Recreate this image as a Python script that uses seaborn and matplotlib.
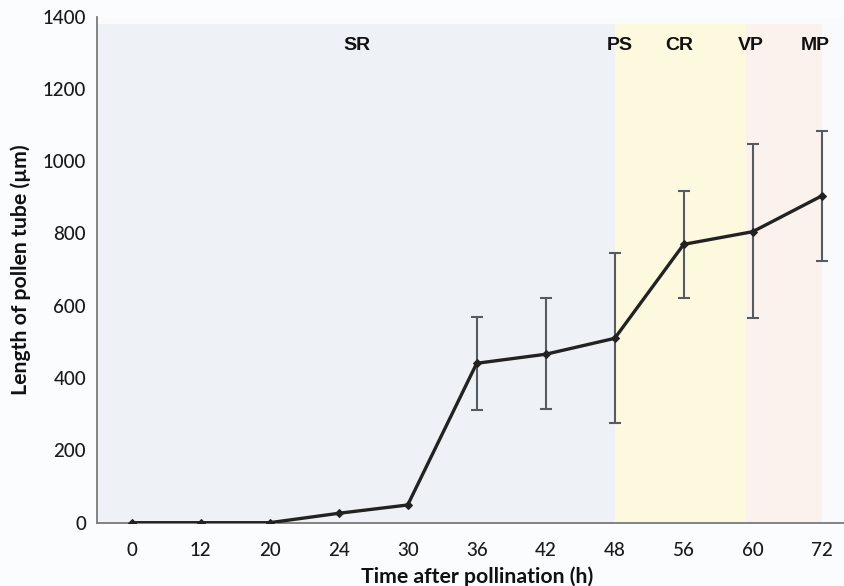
import matplotlib
matplotlib.use("Agg")
import matplotlib.pyplot as plt
import seaborn as sns
import numpy as np
import pandas as pd

# ---- data ----
time_labels = ["0", "12", "20", "24", "30", "36", "42", "48", "56", "60", "72"]
mean_length = [0, 0, 0, 26, 49, 441, 466, 510, 770, 805, 904]
err_upper = [None, None, None, None, None, 568, 621, 745, 918, 1047, 1084]
err_lower = [None, None, None, None, None, 312, 314, 275, 622, 565, 724]

stage_names = ["SR", "PS", "CR", "VP", "MP"]
stage_label_pos = [3.26, 7.07, 7.94, 8.97, 9.9]
stage_regions = [(-0.5, 7.0), (7.0, 8.9), (8.9, 10.0)]
stage_colors = ["#eef2f7", "#fdf9df", "#fbf2ee"]

sns.set_style("white")
plt.rcParams['font.family'] = ['Lato', 'DejaVu Sans']

fig = plt.figure(figsize=(8.44, 5.86), dpi=100, facecolor="#fbfcfe")
ax = fig.add_axes([97.2 / 844, (586 - 522.7) / 586, 759 / 844, (522.7 - 16.6) / 586])
ax.set_facecolor("#f9fafc")

pos = np.arange(len(time_labels))
df = pd.DataFrame({"pos": pos, "mean": mean_length})

# shaded stage regions
for (x0, x1), c in zip(stage_regions, stage_colors):
    ax.axvspan(x0, x1, ymin=0, ymax=1380 / 1400, color=c, lw=0, zorder=0)

# error bars
for p, m, hi, lo in zip(pos, mean_length, err_upper, err_lower):
    if hi is None:
        continue
    ax.errorbar([p], [m], yerr=[[m - lo], [hi - m]], fmt="none", ecolor="#555b60",
                elinewidth=1.5, capsize=4.5, capthick=1.5, zorder=2)

sns.lineplot(data=df, x="pos", y="mean", ax=ax, color="#222222", linewidth=2.4,
             marker="D", markersize=4.5, markeredgecolor="#222222", zorder=3)

# stage labels
for name, xp in zip(stage_names, stage_label_pos):
    ax.text(xp, 1321, name, ha="center", va="center", fontsize=14, fontweight="bold",
            family=["Liberation Sans", "DejaVu Sans"], color="#111111")

ax.set_xlim(-0.5, 10.5)
ax.set_ylim(0, 1400)
ax.set_yticks(range(0, 1401, 200))
ax.set_xticks(pos)
ax.set_xticklabels(time_labels)
ax.set_xticks(np.arange(-0.5, 11, 1), minor=True)
ax.tick_params(axis="x", which="major", length=0, pad=14, labelsize=13.5, labelcolor="#1a1a1a")
ax.tick_params(axis="x", which="minor", length=5, width=1.2, color="#707070", direction="out")
ax.tick_params(axis="y", which="major", length=4, width=1.2, color="#707070", direction="out",
               labelsize=13.5, labelcolor="#1a1a1a", pad=4)
for lab in ax.get_xticklabels() + ax.get_yticklabels():
    lab.set_fontweight("medium")

for s in ["top", "right"]:
    ax.spines[s].set_visible(False)
for s in ["left", "bottom"]:
    ax.spines[s].set_color("#7a7a7a")
    ax.spines[s].set_linewidth(1.3)

ax.set_xlabel("Time after pollination (h)", fontsize=15.3, fontweight="bold", color="#111111", labelpad=5)
ax.set_ylabel("Length of pollen tube (µm)", fontsize=15.3, fontweight="bold", color="#111111", labelpad=8)

fig.savefig("out.png", dpi=100, facecolor=fig.get_facecolor())
